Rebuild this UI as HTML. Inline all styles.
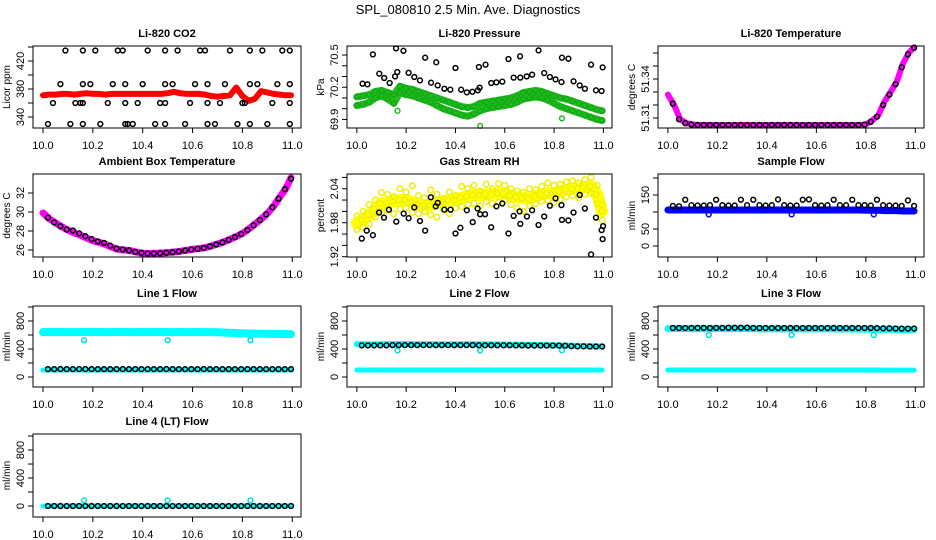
<!DOCTYPE html>
<html><head><meta charset="utf-8"><style>
html,body{margin:0;padding:0;background:#fff;}
svg{display:block;font-family:"Liberation Sans",Arial,sans-serif;}
</style></head><body>
<svg id="chart" width="936" height="540" viewBox="0 0 936 540" xmlns="http://www.w3.org/2000/svg">
<rect width="936" height="540" fill="#fff"/>
<text x="468" y="14" text-anchor="middle" font-size="13">SPL_080810  2.5 Min. Ave. Diagnostics</text>
</svg>
<script>
// ---- data ----
const tX=[10.000,10.025,10.050,10.075,10.100,10.125,10.150,10.175,10.200,10.225,10.250,10.275,10.300,10.325,10.350,10.375,10.400,10.425,10.450,10.475,10.500,10.525,10.550,10.575,10.600,10.625,10.650,10.675,10.700,10.725,10.750,10.775,10.800,10.825,10.850,10.875,10.900,10.925,10.950,10.975,10.995];
const bX=[10.020,10.045,10.070,10.095,10.120,10.145,10.170,10.195,10.220,10.245,10.270,10.295,10.320,10.345,10.370,10.395,10.420,10.445,10.470,10.495,10.520,10.545,10.570,10.595,10.620,10.645,10.670,10.695,10.720,10.745,10.770,10.795,10.820,10.845,10.870,10.895,10.920,10.945,10.970,10.995];
const outX=[10.165,10.500,10.832];

const co2Red=[371,372,372,373,373,372,373,374,373,373,372,373,373,373,373,373,373,373,373,373,374,376,374,373,373,373,372,370,369,370,371,382,370,363,366,377,375,373,372,371,371];
const co2BX=[10.09,10.16,10.21,10.30,10.32,10.42,10.49,10.54,10.63,10.65,10.75,10.83,10.88,10.96,10.99,10.07,10.16,10.19,10.28,10.33,10.40,10.49,10.52,10.61,10.66,10.73,10.83,10.86,10.94,10.99,10.04,10.13,10.15,10.16,10.26,10.33,10.38,10.47,10.49,10.59,10.66,10.71,10.80,10.81,10.92,10.99,10.02,10.11,10.16,10.23,10.33,10.34,10.36,10.45,10.49,10.57,10.66,10.69,10.78,10.83,10.90,10.99];
const co2BY=[435,435,435,435,435,435,435,435,435,435,435,435,435,435,435,387,387,387,387,387,387,387,387,387,387,387,387,387,387,387,360,360,360,360,360,360,360,360,360,360,360,360,360,360,360,360,330,330,330,330,330,330,330,330,330,330,330,330,330,330,330,330];

const presUp=[70.11,70.12,70.13,70.16,70.17,70.15,70.13,70.21,70.19,70.18,70.16,70.14,70.12,70.10,70.08,70.06,70.04,70.02,70.01,70.02,70.05,70.06,70.07,70.08,70.09,70.10,70.12,70.15,70.16,70.17,70.16,70.14,70.12,70.10,70.09,70.07,70.05,70.03,70.01,69.99,69.98];
const presLo=[70.03,70.04,70.06,70.10,70.12,70.09,70.05,70.15,70.13,70.12,70.10,70.08,70.06,70.03,70.00,69.98,69.96,69.94,69.93,69.95,69.98,70.00,70.01,70.02,70.03,70.04,70.06,70.09,70.10,70.11,70.10,70.08,70.05,70.02,70.00,69.98,69.96,69.94,69.92,69.90,69.89];
const presOut=[69.98,69.84,69.91];
const presBX=[10.023,10.043,10.065,10.091,10.111,10.133,10.155,10.159,10.164,10.189,10.210,10.233,10.256,10.277,10.301,10.322,10.328,10.355,10.379,10.400,10.423,10.446,10.469,10.491,10.495,10.498,10.522,10.545,10.566,10.590,10.615,10.636,10.662,10.663,10.689,10.711,10.737,10.760,10.783,10.806,10.830,10.832,10.858,10.879,10.904,10.925,10.950,10.970,10.993,10.997];
const presBY=[70.233,70.227,70.506,70.326,70.286,70.239,70.301,70.562,70.342,70.540,70.335,70.295,70.264,70.475,70.242,70.432,70.217,70.186,70.177,70.379,70.177,70.152,70.158,70.171,70.388,70.196,70.410,70.239,70.245,70.252,70.463,70.289,70.488,70.289,70.301,70.317,70.543,70.332,70.295,70.273,70.248,70.475,70.466,70.255,70.217,70.186,70.410,70.171,70.165,70.385];

const liTemp=[51.328,51.320,51.309,51.306,51.305,51.3046,51.3046,51.3046,51.3046,51.3046,51.3046,51.3046,51.3046,51.3046,51.3046,51.3046,51.3046,51.3046,51.3046,51.3046,51.3046,51.3046,51.3046,51.3046,51.3046,51.3046,51.3046,51.3046,51.3046,51.3046,51.3046,51.3046,51.305,51.308,51.312,51.3226,51.330,51.338,51.352,51.3605,51.3644];
const liTempB=[51.321,51.309,51.306,51.305,51.3046,51.3046,51.3046,51.3046,51.3046,51.3046,51.3046,51.3046,51.3046,51.3046,51.3046,51.3046,51.3046,51.3046,51.3046,51.3046,51.3046,51.3046,51.3046,51.3046,51.3046,51.3046,51.3046,51.3046,51.3046,51.3046,51.3046,51.305,51.307,51.311,51.320,51.328,51.336,51.349,51.359,51.364];

const ambT=[29.9,29.3,28.86,28.45,28.1,27.8,27.57,27.25,26.98,26.8,26.6,26.3,26.07,26.0,25.93,25.78,25.65,25.63,25.65,25.68,25.72,25.79,25.86,25.96,26.07,26.15,26.24,26.42,26.63,26.85,27.12,27.42,27.74,28.2,28.72,29.25,29.84,30.6,31.58,32.5,33.6];
const ambB=[29.4,28.9,28.5,28.15,28.05,27.75,27.45,27.15,26.9,26.75,26.45,26.15,26.05,25.95,25.8,25.7,25.62,25.64,25.66,25.7,25.76,25.84,25.94,26.05,26.12,26.22,26.38,26.58,26.8,27.06,27.35,27.68,28.1,28.6,29.15,29.75,30.5,31.4,32.4,33.5];

const rhMean=[1.979,1.985,1.994,2.004,2.014,2.016,2.018,2.020,2.020,2.016,2.012,2.011,2.011,2.015,2.018,2.020,2.020,2.024,2.027,2.029,2.029,2.030,2.031,2.032,2.032,2.028,2.025,2.023,2.023,2.027,2.030,2.032,2.032,2.035,2.038,2.040,2.040,2.043,2.044,2.030,2.000];
const rhHi=[1.992,2.000,2.012,2.020,2.033,2.030,2.026,2.040,2.034,2.045,2.028,2.024,2.038,2.030,2.022,2.034,2.028,2.044,2.040,2.046,2.036,2.048,2.040,2.049,2.046,2.040,2.036,2.034,2.040,2.038,2.044,2.050,2.046,2.048,2.052,2.054,2.050,2.056,2.060,2.046,2.012];
const rhLo=[1.968,1.972,1.978,1.990,1.998,2.002,1.996,2.004,2.006,1.998,1.996,2.000,1.994,1.990,2.004,1.996,2.006,2.008,2.012,2.014,2.010,2.018,2.014,2.016,2.020,2.012,2.006,2.000,2.010,2.014,2.018,2.020,2.016,2.022,2.026,2.028,2.024,2.030,2.032,2.014,1.984];
const rhBX=[10.02,10.04,10.065,10.09,10.11,10.13,10.16,10.19,10.21,10.233,10.256,10.277,10.30,10.32,10.328,10.355,10.38,10.40,10.42,10.446,10.47,10.49,10.50,10.52,10.545,10.566,10.59,10.615,10.636,10.66,10.663,10.69,10.711,10.737,10.76,10.783,10.806,10.83,10.832,10.858,10.879,10.904,10.925,10.95,10.97,10.993,10.997,10.999];
const rhBY=[1.952,1.966,1.958,1.998,1.989,2.003,1.982,1.996,1.988,2.007,1.983,1.966,2.025,2.009,2.015,2.003,2.003,1.961,1.971,2.002,1.981,2.005,1.995,1.995,1.972,2.009,2.014,1.961,1.992,2.000,1.978,1.991,2.002,1.976,1.991,2.010,2.023,2.011,1.985,1.984,1.998,2.029,2.005,1.924,1.989,1.967,1.951,1.974];

const sfBlue=[106,106,106,106,106,106,106,106,106,106,106,106,106,106,106,106,106,106,106,106,106,106,106,106,106,106,106,106,106,106,106,106,105,105,105,104,104,104,103,103,103];
const sfOut=[93,93,93];
const sfBlack=[118,117,136,120,119,119,120,136,120,119,119,136,120,136,120,119,120,137,120,119,119,136,137,120,119,120,136,120,120,136,120,120,119,136,120,119,119,118,134,118];

const l1Up=[640,642,640,643,641,640,642,644,641,642,640,641,643,642,641,640,642,641,643,642,640,641,642,640,641,642,641,640,639,636,632,628,625,622,620,618,616,615,614,613,612];
const l1Lo=[100,100,100,100,100,100,100,100,100,100,100,100,100,100,100,100,100,100,100,100,100,100,100,100,100,100,100,100,100,100,100,100,100,100,100,100,100,100,100,100,100];
const l1Black=[112,112,113,112,112,113,113,112,112,112,112,112,113,112,112,112,112,112,112,113,112,112,112,112,112,113,112,112,112,112,112,112,112,112,112,112,112,112,112,112];
const l1Out=[525,525,525];

const l2Up=[470,468,466,466,468,470,470,472,470,470,468,468,468,468,466,466,466,466,468,468,468,466,466,464,462,460,460,458,458,456,455,454,452,450,448,446,444,442,440,438,436];
const l2Lo=[100,100,100,100,100,100,100,100,100,100,100,100,100,100,100,100,100,100,100,100,100,100,100,100,100,100,100,100,100,100,100,100,100,100,100,100,100,100,100,100,100];
const l2Black=[452,452,452,452,452,455,455,455,455,455,455,455,455,455,455,455,455,455,455,453,453,453,453,453,453,452,452,450,450,450,450,450,450,448,440,438,438,436,436,435];
const l2Out=[380,380,380];

const l3Up=[690,690,692,692,690,690,690,692,692,690,690,690,690,690,690,688,688,688,688,688,688,688,688,688,688,688,688,688,686,686,686,686,684,684,682,680,680,678,676,676,676];
const l3Lo=[100,100,100,100,100,100,100,100,100,100,100,100,100,100,100,100,100,100,100,100,100,100,100,100,100,100,100,100,100,100,100,100,100,100,100,98,98,98,98,98,98];
const l3Black=[700,700,700,700,702,702,700,702,702,703,703,703,704,700,700,700,700,700,700,700,700,700,700,700,700,700,700,700,700,700,700,700,700,698,695,695,692,690,690,692];
const l3Out=[600,600,600];

const l4Cy=[0,0,0,0,0,0,0,0,0,0,0,0,0,0,0,0,0,0,0,0,0,0,0,0,0,0,0,0,0,0,0,0,0,0,0,0,0,0,0,0,0];
const l4Black=[0,0,0,0,0,0,0,0,0,0,0,0,0,0,0,0,0,0,0,0,0,0,0,0,0,0,0,0,0,0,0,0,0,0,0,0,0,0,0,0];
const l4Out=[80,80,80];

const xTicks=[10.0,10.2,10.4,10.6,10.8,11.0];
const xTickLabels=["10.0","10.2","10.4","10.6","10.8","11.0"];

// ---- drawing ----
const svg=document.getElementById('chart');
const NS='http://www.w3.org/2000/svg';
const cols=[[33,301],[347,612],[658,924]];
const rows=[[46,128],[174,257],[306,387],[434,517]];
const XMIN=9.96,XMAX=11.035;
function mk(tag,parent){const e=document.createElementNS(NS,tag);parent.appendChild(e);return e;}

function panel(name,c,r,title,ylab,ymin,ymax,yticks,ylabels){
  const [x0,x1]=cols[c],[y0,y1]=rows[r];
  const g=mk('g',svg);
  
  
  const sx=v=>x0+(v-XMIN)/(XMAX-XMIN)*(x1-x0);
  const sy=v=>y1-(v-ymin)/(ymax-ymin)*(y1-y0);
  const t=mk('text',g);t.textContent=title;
  
  
  t.setAttribute('x',(x0+x1)/2);t.setAttribute('y',y0-9);t.setAttribute('text-anchor','middle');
  t.setAttribute('font-size','11');t.setAttribute('font-weight','bold');
  const yl=mk('text',g);yl.textContent=ylab;
  
  
  const ly=(y0+y1)/2;
  yl.setAttribute('transform','translate('+(x0-23)+','+ly+') rotate(-90)');
  yl.setAttribute('text-anchor','middle');yl.setAttribute('font-size','10');
  // x axis
  const xa=mk('line',g);
  
  
  xa.setAttribute('x1',sx(xTicks[0]));xa.setAttribute('x2',sx(xTicks[xTicks.length-1]));
  xa.setAttribute('y1',y1+5);xa.setAttribute('y2',y1+5);xa.setAttribute('stroke','#000');
  xa.setAttribute('display','none');
  xTicks.forEach((v,i)=>{
    const tk=mk('line',g);
    
    
    tk.setAttribute('x1',sx(v));tk.setAttribute('x2',sx(v));tk.setAttribute('y1',y1);tk.setAttribute('y2',y1+5);tk.setAttribute('stroke','#000');
    const tl=mk('text',g);tl.textContent=xTickLabels[i];
    
    
    tl.setAttribute('x',sx(v));tl.setAttribute('y',y1+21);tl.setAttribute('text-anchor','middle');tl.setAttribute('font-size','11');
  });
  yticks.forEach(v=>{
    const tk=mk('line',g);
    
    
    tk.setAttribute('x1',x0-5);tk.setAttribute('x2',x0);tk.setAttribute('y1',sy(v));tk.setAttribute('y2',sy(v));tk.setAttribute('stroke','#000');
  });
  ylabels.forEach(v=>{
    const tl=mk('text',g);tl.textContent=String(v);
    
    
    tl.setAttribute('transform','translate('+(x0-9)+','+sy(v)+') rotate(-90)');
    tl.setAttribute('text-anchor','middle');tl.setAttribute('font-size','11');
  });
  const plot=mk('g',g);
  
  
  const box=mk('rect',g);
  
  
  box.setAttribute('x',x0);box.setAttribute('y',y0);box.setAttribute('width',x1-x0);box.setAttribute('height',y1-y0);
  box.setAttribute('fill','none');box.setAttribute('stroke','#000');
  return {sx,sy,plot};
}
function band(p,xs,ys,color,w,name){
  const n=Math.min(xs.length,ys.length);
  const pl=mk('polyline',p.plot);
  
  
  let pts=[];for(let i=0;i<n;i++)pts.push(p.sx(xs[i])+','+p.sy(ys[i]));
  pl.setAttribute('points',pts.join(' '));
  pl.setAttribute('fill','none');pl.setAttribute('stroke',color);pl.setAttribute('stroke-width',w);
  pl.setAttribute('stroke-linejoin','round');pl.setAttribute('stroke-linecap','round');
}
function pts(p,xs,ys,color,name,r){
  const n=Math.min(xs.length,ys.length);
  for(let i=0;i<n;i++){
    const c=mk('circle',p.plot);
    
    
    c.setAttribute('cx',p.sx(xs[i]));c.setAttribute('cy',p.sy(ys[i]));c.setAttribute('r',r||2.4);
    c.setAttribute('fill','none');c.setAttribute('stroke',color);c.setAttribute('stroke-width','1.5');
  }
}

let p;
p=panel('co2',0,0,'Li-820 CO2','Licor ppm',324.3,441.4,[340,360,380,400,420,440],[340,380,420]);
band(p,tX,co2Red,'#ff0000',6,'co2-red-series');
pts(p,co2BX,co2BY,'#000','co2-black-point');

p=panel('pressure',1,0,'Li-820 Pressure','kPa',69.82,70.584,[69.9,70.0,70.1,70.2,70.3,70.4,70.5],[69.9,70.2,70.5]);
band(p,tX,presUp,'#22bb22',7,'pressure-green-upper');
band(p,tX,presLo,'#22bb22',7,'pressure-green-lower');
pts(p,tX,presUp,'#11aa11','pressure-green-point');
pts(p,tX,presLo,'#11aa11','pressure-green-point');
pts(p,outX,presOut,'#22bb22','pressure-green-outlier');
pts(p,presBX,presBY,'#000','pressure-black-point');

p=panel('li-temp',2,0,'Li-820 Temperature','degrees C',51.3023,51.3654,[51.31,51.32,51.33,51.34,51.35,51.36],[51.31,51.34]);
band(p,tX,liTemp,'#ff00ff',6,'li-temp-magenta-series');
pts(p,bX,liTempB,'#000','li-temp-black-point');

p=panel('ambient-temp',0,1,'Ambient Box Temperature','degrees C',25.26,34.0,[26,28,30,32],[26,28,30,32]);
band(p,tX,ambT,'#ff00ff',7,'ambient-magenta-series');
pts(p,bX,ambB,'#000','ambient-black-point');

p=panel('rh',1,1,'Gas Stream RH','percent',1.9195,2.066,[1.92,1.94,1.96,1.98,2.00,2.02,2.04,2.06],[1.92,1.98,2.04]);
band(p,tX,rhMean,'#ffff00',12,'rh-yellow-band');
pts(p,tX,rhHi,'#eeee00','rh-yellow-point',2.8);
pts(p,tX,rhLo,'#eeee00','rh-yellow-point',2.8);
pts(p,bX,rhMean.slice(1),'#f0f000','rh-yellow-point',2.8);
pts(p,rhBX,rhBY,'#000','rh-black-point');

p=panel('sample-flow',2,1,'Sample Flow','ml/min',-32.4,211.8,[0,50,100,150,200],[0,50,150]);
band(p,tX,sfBlue,'#0000ff',7,'sample-flow-blue-series');
pts(p,outX,sfOut,'#0000ff','sample-flow-blue-outlier');
pts(p,bX,sfBlack,'#000','sample-flow-black-point');

const FT=[0,200,400,600,800,1000],FL=[0,400,800];
p=panel('line1',0,2,'Line 1 Flow','ml/min',-143,1014,FT,FL);
band(p,tX,l1Up,'#00ffff',8,'line1-cyan-upper');
band(p,tX,l1Lo,'#00ffff',5,'line1-cyan-lower');
pts(p,outX,l1Out,'#00e0e0','line1-cyan-outlier');
pts(p,bX,l1Black,'#000','line1-black-point');

p=panel('line2',1,2,'Line 2 Flow','ml/min',-143,1014,FT,FL);
band(p,tX,l2Up,'#00ffff',6,'line2-cyan-upper');
band(p,tX,l2Lo,'#00ffff',5,'line2-cyan-lower');
pts(p,outX,l2Out,'#00e0e0','line2-cyan-outlier');
pts(p,bX,l2Black,'#000','line2-black-point');

p=panel('line3',2,2,'Line 3 Flow','ml/min',-143,1014,FT,FL);
band(p,tX,l3Up,'#00ffff',7,'line3-cyan-upper');
band(p,tX,l3Lo,'#00ffff',5,'line3-cyan-lower');
pts(p,outX,l3Out,'#00e0e0','line3-cyan-outlier');
pts(p,bX,l3Black,'#000','line3-black-point');

p=panel('line4',0,3,'Line 4 (LT) Flow','ml/min',-157,1029,FT,FL);
band(p,tX,l4Cy,'#00ffff',5,'line4-cyan-series');
pts(p,outX,l4Out,'#00e0e0','line4-cyan-outlier');
pts(p,bX,l4Black,'#000','line4-black-point');
</script>
</body></html>
